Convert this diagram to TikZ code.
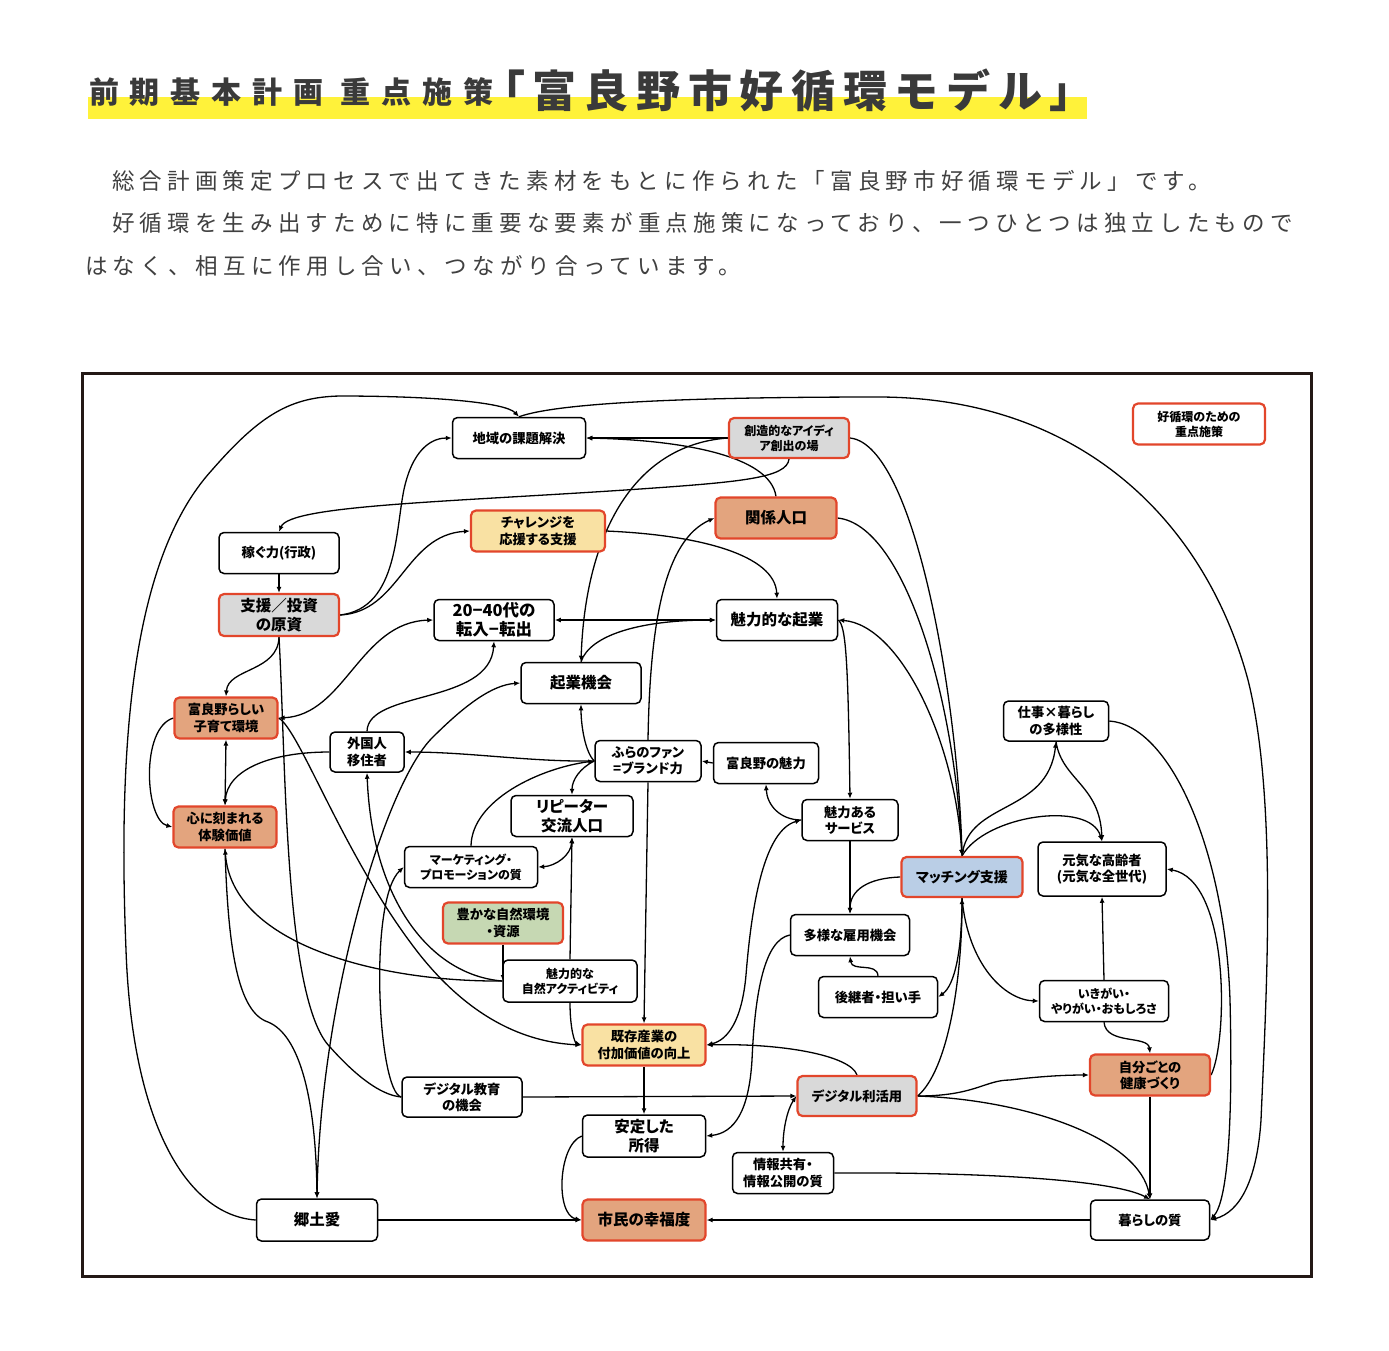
\documentclass[tikz,border=0pt]{standalone}
\usepackage{fontspec}
\usetikzlibrary{arrows.meta}
\newfontfamily\jp{Noto Sans CJK JP}[RawFeature=+palt]
\newfontfamily\jpttl{Noto Sans CJK JP}[LetterSpace=36]
\newfontfamily\jpttlB{Noto Sans CJK JP}[LetterSpace=17.5]
\newfontfamily\jppara{Noto Sans CJK JP}[LetterSpace=23]
\definecolor{kred}{HTML}{E2462B}
\definecolor{korange}{HTML}{E3A47E}
\definecolor{kyellow}{HTML}{F9E1A3}
\definecolor{kgray}{HTML}{D9D9D9}
\definecolor{kblue}{HTML}{BACEE6}
\definecolor{kgreen}{HTML}{C6D8B3}
\definecolor{hiyellow}{HTML}{FFF23A}
\definecolor{ttl}{HTML}{3A3A3A}
\definecolor{paracol}{HTML}{404040}
\definecolor{framecol}{HTML}{231815}
\pgfdeclarelayer{bgzero}
\pgfdeclarelayer{background}
\pgfsetlayers{bgzero,background,main}
\begin{document}
\begin{tikzpicture}[x=1pt,y=-1pt,
  box/.style={draw=black, line width=1.5pt, rounded corners=5pt, fill=white, align=center, inner sep=1pt, font=\jp\bfseries\fontsize{13.3}{16.3}\selectfont},
  key/.style={box, draw=kred, line width=2.2pt},
  big/.style={font=\jp\bfseries\fontsize{15.5}{19}\selectfont},
  sm/.style={font=\jp\bfseries\fontsize{12}{15}\selectfont},
  sz/.style 2 args={minimum width=#1pt, minimum height=#2pt},
  con/.style={line width=1.3pt, draw=black},
  ar/.style={con, -{Latex[length=6pt,width=5pt]}},
  dar/.style={con, {Latex[length=6pt,width=5pt]}-{Latex[length=6pt,width=5pt]}}
]
\useasboundingbox (0,0) rectangle (1389,1350);
\begin{pgfonlayer}{bgzero}
\fill[white] (0,0) rectangle (1389,1350);
\end{pgfonlayer}
% title
\fill[hiyellow] (88,97) rectangle (1087,119);
\node[anchor=base west, inner sep=0, text=ttl, font=\jpttl\bfseries\fontsize{30}{30}\selectfont] (t1) at (89,103) {前期基本計画 重点施策};
\node[anchor=base west, inner sep=0, text=ttl, font=\jpttlB\bfseries\fontsize{44}{44}\selectfont] (t2) at (481,107) {「富良野市好循環モデル」};
% paragraph
\node[anchor=base west, inner sep=0, text=paracol, font=\jppara\fontsize{22.5}{22.5}\selectfont] (p1) at (112,189) {総合計画策定プロセスで出てきた素材をもとに作られた「富良野市好循環モデル」です。};
\node[anchor=base west, inner sep=0, text=paracol, font=\jppara\fontsize{22.5}{22.5}\selectfont] (p2) at (112,231) {好循環を生み出すために特に重要な要素が重点施策になっており、一つひとつは独立したもので};
\node[anchor=base west, inner sep=0, text=paracol, font=\jppara\fontsize{22.5}{22.5}\selectfont] (p3) at (85,274) {はなく、相互に作用し合い、つながり合っています。};
% frame
\draw[framecol, line width=3pt] (82,373) rectangle (1311,1276);
% nodes
\node[box, sz={133}{41}] (chiiki) at (519,438) {地域の課題解決};
\node[key, fill=kgray, sm, sz={120}{40}] (souzou) at (789,438) {創造的なアイディ\\ア創出の場};
\node[key, fill=korange, big, sz={121}{41}] (kankei) at (776,518) {関係人口};
\node[key, fill=kyellow, sz={134}{41}] (challenge) at (538,531) {チャレンジを\\応援する支援};
\node[box, big, sz={121}{41}] (kigyo) at (777,620) {魅力的な起業};
\node[box, font=\jp\bfseries\fontsize{16.5}{19}\selectfont, sz={120}{41}] (tenyu) at (494,620) {20−40代の\\転入−転出};
\node[box, big, sz={120}{41}] (kikai) at (581,683) {起業機会};
\node[box, sz={120}{41}] (kasegu) at (279,553) {稼ぐ力(行政)};
\node[key, fill=kgray, big, sz={120}{42}] (genshi) at (279,615) {支援／投資\\の原資};
\node[key, sm, sz={132}{41}] (legend) at (1199,424) {好循環のための\\重点施策};
\node[key, fill=korange, sz={103}{41}] (kosodate) at (226,718) {富良野らしい\\子育て環境};
\node[key, fill=korange, sz={103}{41}] (kokoro) at (225,827) {心に刻まれる\\体験価値};
\node[box, sz={74}{40}] (gaikoku) at (367,752) {外国人\\移住者};
\node[box, sm, sz={133}{41}] (marketing) at (471,867) {マーケティング・\\プロモーションの質};
\node[key, fill=kgreen, sz={120}{41}] (yutaka) at (503,923) {豊かな自然環境\\・資源};
\node[box, sm, sz={134}{42}] (activity) at (570,981) {魅力的な\\自然アクティビティ};
\node[box, sz={106}{41}] (fan) at (648,761) {ふらのファン\\=ブランド力};
\node[box, sz={105}{41}] (miryoku) at (766,763) {富良野の魅力};
\node[box, big, sz={122}{41}] (repeater) at (572,816) {リピーター\\交流人口};
\node[box, sz={96}{41}] (service) at (850,820) {魅力ある\\サービス};
\node[box, sz={119}{41}] (koyou) at (850,935) {多様な雇用機会};
\node[box, sz={119}{41}] (koukei) at (878,997) {後継者・担い手};
\node[box, sz={105}{40}] (shigoto) at (1056,721) {仕事×暮らし\\の多様性};
\node[key, fill=kblue, font=\jp\bfseries\fontsize{14}{17}\selectfont, sz={121}{40}] (matching) at (962,877) {マッチング支援};
\node[box, sz={128}{54}] (genki) at (1102,869) {元気な高齢者\\(元気な全世代)};
\node[box, sm, sz={129}{41}] (ikigai) at (1104,1001) {いきがい・\\やりがい・おもしろさ};
\node[key, fill=korange, sz={120}{41}] (kenko) at (1150,1075) {自分ごとの\\健康づくり};
\node[box, sz={119}{40}] (kurashi) at (1150,1220) {暮らしの質};
\node[key, fill=kgray, sz={119}{40}] (digital) at (857,1096) {デジタル利活用};
\node[key, fill=kyellow, sz={123}{41}] (kizon) at (644,1045) {既存産業の\\付加価値の向上};
\node[box, sz={120}{40}] (dkyoiku) at (462,1097) {デジタル教育\\の機会};
\node[box, big, sz={123}{42}] (antei) at (644,1136) {安定した\\所得};
\node[box, sz={101}{41}] (jouhou) at (783,1173) {情報共有・\\情報公開の質};
\node[key, fill=korange, big, sz={123}{41}] (shimin) at (644,1220) {市民の幸福度};
\node[box, big, sz={121}{42}] (kyodo) at (317,1220) {郷土愛};
% connectors
\begin{pgfonlayer}{background}
\draw[ar] (kyodo.west) .. controls (185,1215) and (132,1120) .. (126,950) .. controls (118,750) and (130,560) .. (212,470) .. controls (260,415) and (290,397) .. (340,396) .. controls (430,396) and (505,402) .. (chiiki.north);
\draw[ar] (chiiki.north) .. controls (560,402) and (700,397) .. (880,397) .. controls (1080,398) and (1205,520) .. (1248,680) .. controls (1278,800) and (1266,1000) .. (1261,1120) .. controls (1257,1180) and (1240,1212) .. (kurashi.east);
\draw[ar] (shigoto.east) .. controls (1170,725) and (1225,850) .. (1230,1000) .. controls (1233,1120) and (1228,1200) .. (kurashi.east);
\draw[ar] (souzou.west) -- (chiiki.east);
\draw[ar] (kankei.north) .. controls (770,455) and (680,440) .. (chiiki.east);
\draw[ar] (souzou.south) .. controls (787,478) and (740,482) .. (640,489) .. controls (450,502) and (290,505) .. (kasegu.north);
\draw[ar] (souzou.west) .. controls (630,445) and (585,540) .. (kikai.north);
\draw[ar] (souzou.east) .. controls (915,445) and (958,700) .. (matching.north);
\draw[ar] (kankei.east) .. controls (905,525) and (955,700) .. (matching.north);
\draw[dar] (kigyo.east) .. controls (900,625) and (955,740) .. (matching.north);
\draw[ar] (matching.north) .. controls (968,800) and (1048,815) .. (shigoto.south);
\draw[ar] (shigoto.south) .. controls (1062,780) and (1100,785) .. (genki.north);
\draw[ar] (matching.north) .. controls (985,815) and (1090,800) .. (genki.north);
\draw[ar] (matching.south) .. controls (962,950) and (955,985) .. (koukei.east);
\draw[ar] (matching.south) .. controls (968,965) and (1005,1000) .. (ikigai.west);
\draw[ar] (digital.east) .. controls (948,1070) and (962,980) .. (matching.south);
\draw[ar] (matching.west) .. controls (868,878) and (850,890) .. (koyou.north);
\draw[ar] (kigyo.east) .. controls (846,626) and (848,660) .. (service.north);
\draw[ar] (service.south) -- (koyou.north);
\draw[ar] (koukei.north) .. controls (877,962) and (852,972) .. (koyou.south);
\draw[ar] (service.west) .. controls (780,820) and (767,805) .. (miryoku.south);
\draw[ar] (miryoku.west) -- (fan.east);
\draw[dar] (service.west) .. controls (765,830) and (752,900) .. (746,975) .. controls (742,1020) and (728,1040) .. (kizon.east);
\draw[ar] (koyou.west) .. controls (765,940) and (755,990) .. (752,1060) .. controls (749,1110) and (735,1133) .. (antei.east);
\draw[ar] (digital.north) .. controls (850,1055) and (780,1043) .. (kizon.east);
\draw[ar] (dkyoiku.east) -- (digital.west);
\draw[dar] (digital.west) .. controls (787,1110) and (783,1130) .. (jouhou.north);
\draw[ar] (digital.east) .. controls (975,1096) and (985,1080) .. (1010,1080) .. controls (1035,1077) and (1060,1075) .. (kenko.west);
\draw[ar] (digital.east) .. controls (1030,1100) and (1140,1140) .. (kurashi.north);
\draw[ar] (jouhou.east) .. controls (960,1172) and (1110,1178) .. (kurashi.north);
\draw[ar] (kenko.south) -- (kurashi.north);
\draw[ar] (ikigai.south) .. controls (1106,1045) and (1148,1035) .. (kenko.north);
\draw[ar] (ikigai.north) -- (genki.south);
\draw[ar] (kenko.east) .. controls (1228,1040) and (1230,880) .. (genki.east);
\draw[ar] (kurashi.west) -- (shimin.east);
\draw[ar] (kyodo.east) -- (shimin.west);
\draw[ar] (antei.west) .. controls (558,1145) and (555,1215) .. (shimin.west);
\draw[ar] (kizon.south) -- (antei.north);
\draw[ar] (fan.north) .. controls (650,620) and (665,540) .. (kankei.west);
\draw[ar] (fan.south) -- (kizon.north);
\draw[ar] (fan.west) .. controls (585,752) and (581,725) .. (kikai.south);
\draw[ar] (fan.west) .. controls (580,768) and (572,780) .. (repeater.north);
\draw[ar] (fan.west) .. controls (530,762) and (470,752) .. (gaikoku.east);
\draw[ar] (marketing.north) .. controls (472,800) and (540,768) .. (fan.west);
\draw[ar] (gaikoku.west) .. controls (270,752) and (227,770) .. (kokoro.north);
\draw[ar] (gaikoku.north) .. controls (368,690) and (490,705) .. (tenyu.south);
\draw[ar] (activity.west) .. controls (430,975) and (372,900) .. (gaikoku.south);
\draw[ar] (activity.west) .. controls (380,982) and (232,945) .. (kokoro.south);
\draw[ar] (yutaka.south) -- (yutaka.south |- activity.west);
\draw[ar] (activity.north) -- (repeater.south);
\draw[dar] (marketing.east) .. controls (556,866) and (571,855) .. (repeater.south);
\draw[ar] (activity.south) .. controls (570,1030) and (575,1043) .. (kizon.west);
\draw[ar] (kosodate.east) .. controls (300,730) and (345,860) .. (420,955) .. controls (480,1030) and (540,1043) .. (kizon.west);
\draw[dar] (kosodate.east) .. controls (345,715) and (360,622) .. (tenyu.west);
\draw[dar] (kyodo.north) .. controls (320,1000) and (385,785) .. (432,738) .. controls (465,705) and (492,685) .. (kikai.west);
\draw[ar] (kokoro.south) .. controls (228,950) and (238,1012) .. (268,1022) .. controls (300,1035) and (316,1100) .. (kyodo.north);
\draw[con] (genshi.south) .. controls (286,760) and (284,1000) .. (330,1047) .. controls (355,1075) and (380,1095) .. (dkyoiku.west);
\draw[ar] (dkyoiku.west) .. controls (378,1092) and (368,900) .. (marketing.west);
\draw[ar] (genshi.south) .. controls (278,672) and (228,668) .. (kosodate.north);
\draw[ar] (kasegu.south) -- (genshi.north);
\draw[ar] (genshi.east) .. controls (400,608) and (395,525) .. (405,485) .. controls (415,445) and (435,438) .. (chiiki.west);
\draw[ar] (genshi.east) .. controls (400,612) and (405,535) .. (challenge.west);
\draw[ar] (challenge.east) .. controls (700,535) and (775,555) .. (kigyo.north);
\draw[dar] (tenyu.east) -- (kigyo.west);
\draw[ar] (kikai.north) .. controls (590,635) and (640,620) .. (kigyo.west);
\draw[ar] (kosodate.west) .. controls (140,728) and (145,820) .. (kokoro.west);
\draw[dar] (kosodate.south) -- (kokoro.north);
\end{pgfonlayer}
\end{tikzpicture}
\end{document}
